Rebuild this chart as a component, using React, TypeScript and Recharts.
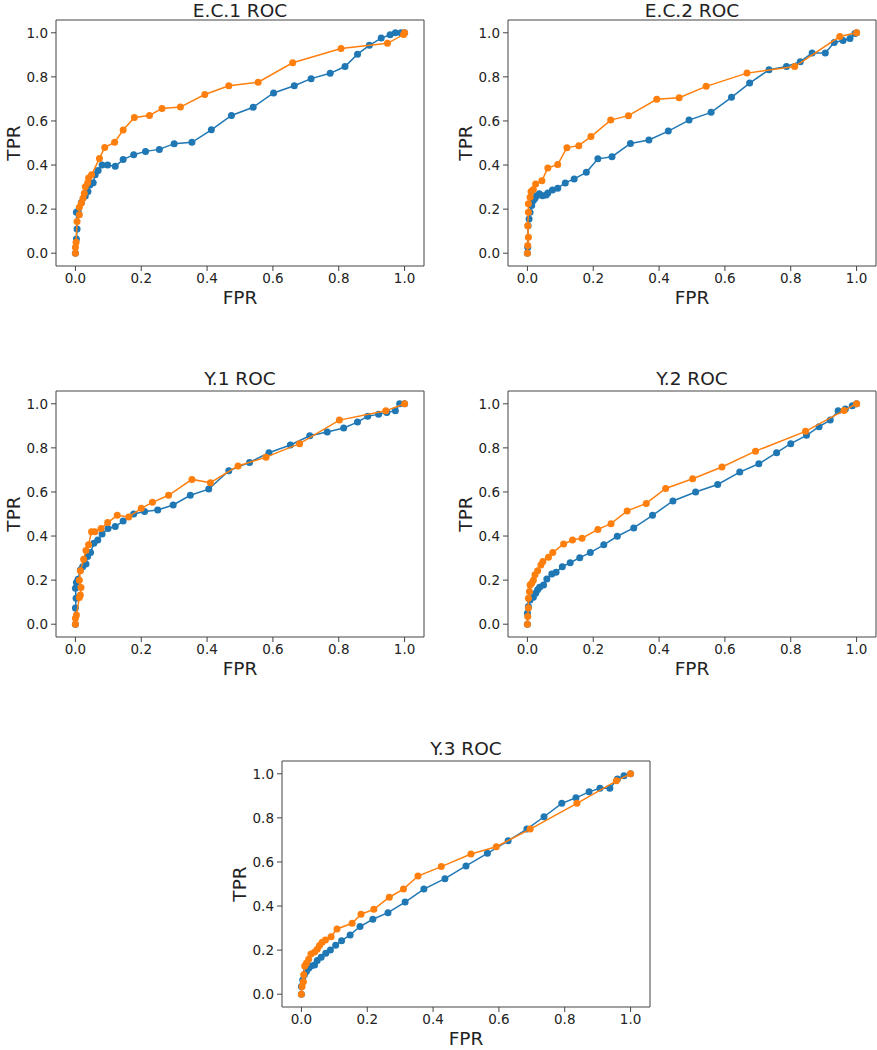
import { ScatterChart, Scatter, XAxis, YAxis, ReferenceArea } from "recharts";

const BLUE = "#1f77b4";
const ORANGE = "#ff7f0e";
const TICKS = [0, 0.2, 0.4, 0.6, 0.8, 1.0];

// [FPR, TPR] pairs
const ec1Blue = [
  [0, 0], [0.003, 0.065], [0.005, 0.11], [0.003, 0.186], [0.008, 0.19], [0.018, 0.23], [0.03, 0.26],
  [0.038, 0.28], [0.044, 0.31], [0.054, 0.32], [0.06, 0.356], [0.069, 0.375], [0.081, 0.4], [0.098, 0.4],
  [0.121, 0.394], [0.145, 0.425], [0.177, 0.447], [0.213, 0.462], [0.255, 0.471], [0.3, 0.497],
  [0.354, 0.503], [0.413, 0.56], [0.474, 0.625], [0.54, 0.662], [0.602, 0.727], [0.665, 0.76],
  [0.716, 0.792], [0.774, 0.816], [0.819, 0.847], [0.857, 0.903], [0.893, 0.943], [0.929, 0.976],
  [0.956, 0.991], [0.972, 1.0], [0.989, 1.0], [1, 1],
];
const ec1Orange = [
  [0, 0], [0, 0.027], [0.002, 0.05], [0.005, 0.144], [0.012, 0.174], [0.012, 0.208], [0.018, 0.228],
  [0.023, 0.249], [0.027, 0.272], [0.03, 0.302], [0.037, 0.319], [0.04, 0.341], [0.049, 0.356],
  [0.073, 0.43], [0.089, 0.48], [0.119, 0.503], [0.145, 0.559], [0.179, 0.616], [0.225, 0.625],
  [0.263, 0.657], [0.319, 0.663], [0.393, 0.72], [0.466, 0.76], [0.555, 0.776], [0.66, 0.864],
  [0.807, 0.929], [0.948, 0.952], [0.997, 0.992], [1, 1],
];

const ec2Blue = [
  [0, 0], [0.001, 0.027], [0.002, 0.125], [0.005, 0.155], [0.008, 0.186], [0.013, 0.216], [0.018, 0.239],
  [0.023, 0.249], [0.028, 0.261], [0.036, 0.27], [0.046, 0.261], [0.057, 0.264], [0.062, 0.273],
  [0.076, 0.287], [0.092, 0.295], [0.115, 0.319], [0.142, 0.337], [0.179, 0.367], [0.214, 0.428],
  [0.257, 0.438], [0.313, 0.498], [0.369, 0.514], [0.428, 0.554], [0.491, 0.604], [0.558, 0.639],
  [0.62, 0.707], [0.675, 0.772], [0.734, 0.832], [0.787, 0.847], [0.829, 0.869], [0.865, 0.908],
  [0.905, 0.908], [0.932, 0.956], [0.959, 0.965], [0.98, 0.974], [0.995, 0.997], [1, 1],
];
const ec2Orange = [
  [0, 0], [0.001, 0.035], [0.003, 0.072], [0.001, 0.125], [0.003, 0.186], [0.003, 0.224], [0.008, 0.254],
  [0.011, 0.28], [0.018, 0.289], [0.025, 0.314], [0.044, 0.329], [0.062, 0.387], [0.092, 0.402],
  [0.12, 0.479], [0.156, 0.488], [0.193, 0.529], [0.253, 0.604], [0.307, 0.624], [0.393, 0.698],
  [0.461, 0.705], [0.543, 0.757], [0.667, 0.817], [0.812, 0.847], [0.949, 0.983], [1, 1],
];

const y1Blue = [
  [0, 0], [0, 0.073], [0.002, 0.118], [0, 0.163], [0.003, 0.189], [0.008, 0.204], [0.015, 0.246],
  [0.022, 0.261], [0.032, 0.273], [0.037, 0.307], [0.046, 0.325], [0.056, 0.367], [0.068, 0.382],
  [0.081, 0.409], [0.099, 0.434], [0.121, 0.443], [0.145, 0.468], [0.177, 0.5], [0.21, 0.511],
  [0.25, 0.518], [0.297, 0.541], [0.349, 0.585], [0.405, 0.613], [0.466, 0.696], [0.529, 0.734],
  [0.588, 0.778], [0.653, 0.813], [0.712, 0.855], [0.765, 0.872], [0.815, 0.89], [0.857, 0.917],
  [0.888, 0.944], [0.921, 0.952], [0.946, 0.961], [0.972, 0.968], [0.985, 1.0], [1, 1],
];
const y1Orange = [
  [0, 0], [0, 0.027], [0.003, 0.042], [0.012, 0.121], [0.015, 0.133], [0.017, 0.166], [0.012, 0.2],
  [0.015, 0.243], [0.025, 0.295], [0.032, 0.334], [0.04, 0.36], [0.049, 0.42], [0.059, 0.42],
  [0.078, 0.434], [0.098, 0.461], [0.127, 0.494], [0.162, 0.486], [0.2, 0.526], [0.234, 0.553],
  [0.283, 0.585], [0.354, 0.657], [0.41, 0.642], [0.494, 0.718], [0.579, 0.758], [0.681, 0.819],
  [0.802, 0.926], [0.943, 0.968], [1, 1],
];

const y2Blue = [
  [0, 0], [0, 0.05], [0.003, 0.08], [0.008, 0.11], [0.018, 0.122], [0.025, 0.14], [0.031, 0.156],
  [0.037, 0.168], [0.049, 0.178], [0.059, 0.205], [0.074, 0.228], [0.087, 0.236], [0.106, 0.261],
  [0.13, 0.279], [0.159, 0.302], [0.191, 0.325], [0.232, 0.36], [0.273, 0.399], [0.323, 0.437],
  [0.38, 0.494], [0.442, 0.559], [0.511, 0.6], [0.578, 0.634], [0.645, 0.69], [0.703, 0.728],
  [0.757, 0.778], [0.8, 0.819], [0.848, 0.857], [0.886, 0.896], [0.92, 0.926], [0.944, 0.968],
  [0.966, 0.976], [0.987, 0.991], [1, 1],
];
const y2Orange = [
  [0, 0], [0.001, 0.035], [0.003, 0.073], [0.003, 0.118], [0.006, 0.148], [0.008, 0.178], [0.013, 0.186],
  [0.018, 0.2], [0.023, 0.224], [0.031, 0.243], [0.041, 0.269], [0.047, 0.284], [0.064, 0.304],
  [0.077, 0.325], [0.11, 0.364], [0.137, 0.382], [0.166, 0.39], [0.214, 0.43], [0.254, 0.456],
  [0.303, 0.514], [0.361, 0.548], [0.42, 0.616], [0.502, 0.66], [0.591, 0.713], [0.693, 0.785],
  [0.845, 0.875], [0.962, 0.97], [1, 1],
];

const y3Blue = [
  [0, 0], [0, 0.035], [0.004, 0.065], [0.009, 0.088], [0.015, 0.103], [0.022, 0.118], [0.029, 0.128],
  [0.04, 0.133], [0.048, 0.153], [0.06, 0.168], [0.074, 0.186], [0.088, 0.201], [0.104, 0.222],
  [0.122, 0.243], [0.148, 0.269], [0.178, 0.307], [0.217, 0.34], [0.263, 0.37], [0.315, 0.418],
  [0.372, 0.477], [0.436, 0.524], [0.5, 0.582], [0.565, 0.639], [0.628, 0.696], [0.685, 0.749],
  [0.737, 0.805], [0.791, 0.866], [0.834, 0.891], [0.874, 0.918], [0.907, 0.934], [0.937, 0.934],
  [0.96, 0.976], [0.98, 0.991], [1, 1],
];
const y3Orange = [
  [0, 0], [0.002, 0.035], [0.006, 0.057], [0.007, 0.088], [0.01, 0.128], [0.015, 0.14], [0.022, 0.159],
  [0.029, 0.183], [0.04, 0.192], [0.048, 0.204], [0.055, 0.221], [0.063, 0.236], [0.073, 0.246],
  [0.09, 0.261], [0.108, 0.296], [0.154, 0.322], [0.181, 0.363], [0.22, 0.385], [0.267, 0.44],
  [0.31, 0.477], [0.354, 0.536], [0.425, 0.579], [0.515, 0.636], [0.592, 0.669], [0.695, 0.749],
  [0.837, 0.866], [0.957, 0.968], [1, 1],
];

const FONT = "'DejaVu Sans', sans-serif";
const TXT = "#222";
const FRAME = "#444";

// plot box size (px) and axis limits
const PW = 368;
const PH = 246;
const XDOM = [-0.059, 1.059];
const YDOM = [-0.058, 1.058];
const YW = 52;
const MT = 2;
const MR = 1;
const XH = 40;

const toPts = (arr: number[][]) => arr.map(([x, y]) => ({ x, y }));

const dot = (color: string) => (p: any) => <circle cx={p.cx} cy={p.cy} r={3.5} fill={color} />;

const labelStyle: any = {
  position: "absolute",
  textAlign: "center",
  fontSize: 18.5,
  fontFamily: FONT,
  color: TXT,
  lineHeight: "22px",
  whiteSpace: "nowrap",
};

function RocPanel({ title, blue, orange, left, top }: any) {
  const w = YW + PW + MR;
  const h = MT + PH + XH;
  const tick = { fill: TXT, fontSize: 13.5, fontFamily: FONT };
  return (
    <>
      <div style={{ position: "absolute", left: left - YW, top: top - MT }}>
        <ScatterChart width={w} height={h} margin={{ top: MT, right: MR, left: 0, bottom: 0 }}>
          <XAxis
            type="number"
            dataKey="x"
            domain={XDOM}
            ticks={TICKS}
            tickFormatter={(v: number) => v.toFixed(1)}
            allowDataOverflow
            axisLine={false}
            tickSize={5}
            tickMargin={2}
            stroke={FRAME}
            tick={tick}
            height={XH}
          />
          <YAxis
            type="number"
            dataKey="y"
            domain={YDOM}
            ticks={TICKS}
            tickFormatter={(v: number) => v.toFixed(1)}
            allowDataOverflow
            axisLine={false}
            tickSize={5}
            tickMargin={3}
            stroke={FRAME}
            tick={tick}
            width={YW}
          />
          <ReferenceArea x1={XDOM[0]} x2={XDOM[1]} y1={YDOM[0]} y2={YDOM[1]} fill="none" stroke={FRAME} strokeWidth={1} ifOverflow="visible" />
          <Scatter data={toPts(blue)} fill={BLUE} line={{ stroke: BLUE, strokeWidth: 1.5 }} shape={dot(BLUE)} isAnimationActive={false} />
          <Scatter data={toPts(orange)} fill={ORANGE} line={{ stroke: ORANGE, strokeWidth: 1.5 }} shape={dot(ORANGE)} isAnimationActive={false} />
        </ScatterChart>
      </div>
      <div style={{ ...labelStyle, left, top: Math.max(0, top - 23.3), width: PW }}>{title}</div>
      <div style={{ ...labelStyle, left, top: top + PH + 21, width: PW }}>FPR</div>
      <div
        style={{
          ...labelStyle,
          left: left - 42 - PH / 2,
          top: top + PH / 2 - 11,
          width: PH,
          transform: "rotate(-90deg)",
        }}
      >
        TPR
      </div>
    </>
  );
}

export default function App() {
  return (
    <div style={{ position: "absolute", left: 0, top: 0, width: 877, height: 1050, background: "#fff", overflow: "hidden" }}>
      <RocPanel title="E.C.1 ROC" blue={ec1Blue} orange={ec1Orange} left={56} top={20} />
      <RocPanel title="E.C.2 ROC" blue={ec2Blue} orange={ec2Orange} left={508} top={20} />
      <RocPanel title="Y.1 ROC" blue={y1Blue} orange={y1Orange} left={56} top={391} />
      <RocPanel title="Y.2 ROC" blue={y2Blue} orange={y2Orange} left={508} top={391} />
      <RocPanel title="Y.3 ROC" blue={y3Blue} orange={y3Orange} left={282} top={761} />
    </div>
  );
}
